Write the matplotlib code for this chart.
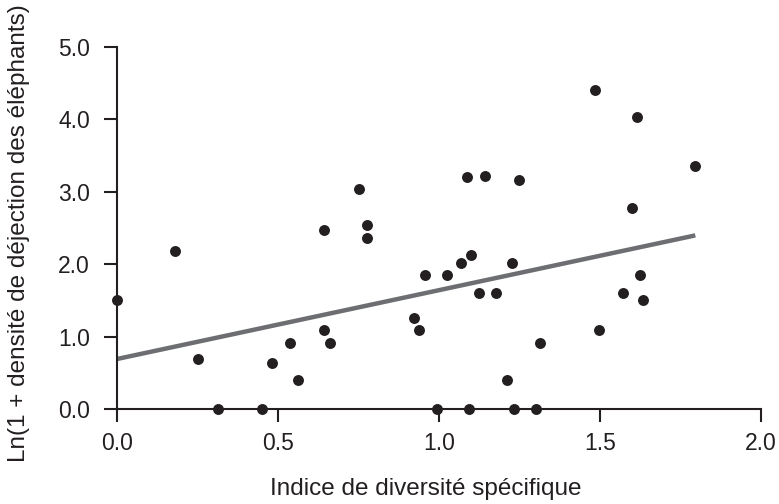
import numpy as np
import matplotlib.pyplot as plt

# =============================
# Data
# =============================
diversity = [0.00, 0.18, 0.25, 0.315, 0.45, 0.482, 0.538, 0.562, 0.644, 0.644,
             0.66, 0.752, 0.775, 0.775, 0.922, 0.937, 0.957, 0.993, 1.024, 1.067,
             1.088, 1.092, 1.099, 1.123, 1.144, 1.176, 1.211, 1.228, 1.233, 1.248,
             1.30, 1.313, 1.484, 1.496, 1.572, 1.60, 1.616, 1.624, 1.633, 1.796]
dung = [1.50, 2.18, 0.69, 0.00, 0.00, 0.64, 0.91, 0.40, 2.47, 1.09,
        0.91, 3.03, 2.54, 2.36, 1.25, 1.09, 1.85, 0.00, 1.85, 2.01,
        3.20, 0.00, 2.13, 1.60, 3.22, 1.60, 0.40, 2.01, 0.00, 3.16,
        0.00, 0.91, 4.40, 1.09, 1.60, 2.77, 4.03, 1.85, 1.50, 3.36]

# regression line
intercept = 0.69
slope = 0.95

xticks = [0.0, 0.5, 1.0, 1.5, 2.0]
yticks = [0.0, 1.0, 2.0, 3.0, 4.0, 5.0]

ink = "#231f20"
plt.rcParams["font.family"] = ["Liberation Sans", "DejaVu Sans"]

fig = plt.figure(figsize=(7.79, 5.04), dpi=100)
ax = fig.add_axes([0.1502, 0.1885, 0.8267, 0.7188])

xs = np.array([0.0, max(diversity)])
ax.plot(xs, intercept + slope * xs, color="#6d6e71", lw=3.2, solid_capstyle="butt", zorder=2)
ax.scatter(diversity, dung, s=62, color=ink, zorder=3, clip_on=False, linewidths=0)

ax.set_xlim(0, 2.0)
ax.set_ylim(0, 5.0)
ax.set_xticks(xticks)
ax.set_yticks(yticks)
ax.set_xticklabels([f"{t:.1f}" for t in xticks])
ax.set_yticklabels([f"{t:.1f}" for t in yticks])

for side in ["top", "right"]:
    ax.spines[side].set_visible(False)
for side in ["left", "bottom"]:
    ax.spines[side].set_color(ink)
    ax.spines[side].set_linewidth(1.5)

ax.tick_params(direction="out", length=9.5, width=1.5, color=ink,
               labelsize=16.5, labelcolor=ink)
ax.tick_params(axis="y", pad=10)
ax.tick_params(axis="x", pad=7)

ax.set_xlabel("Indice de diversité spécifique", fontsize=17.5, color=ink)
ax.set_ylabel("Ln(1 + densité de déjection des éléphants)", fontsize=17.5, color=ink)
ax.xaxis.set_label_coords(0.479, -0.19)
ax.yaxis.set_label_coords(-0.135, 0.4855)

fig.savefig("out.png", dpi=100)
